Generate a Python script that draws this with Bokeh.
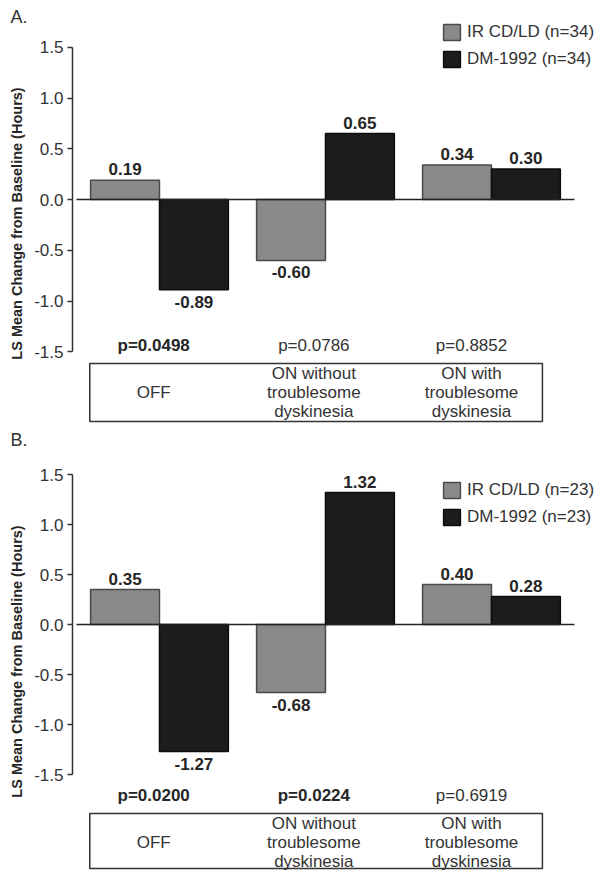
from bokeh.plotting import figure
from bokeh.models import (Range1d, FixedTicker, NumeralTickFormatter, Legend,
                          LegendItem, ColumnDataSource)
from bokeh.layouts import column
from bokeh.embed import file_html
from bokeh.resources import INLINE
from bokeh.core.properties import value

FONT = "Liberation Sans"

# ---------------- data ----------------
categories = ["OFF", "ON without\ntroublesome\ndyskinesia", "ON with\ntroublesome\ndyskinesia"]
series_names = ["IR CD/LD", "DM-1992"]

a_ir = [0.19, -0.60, 0.34]
a_dm = [-0.89, 0.65, 0.30]
a_n = 34
a_pvals = ["p=0.0498", "p=0.0786", "p=0.8852"]
a_pbold = [True, False, False]

b_ir = [0.35, -0.68, 0.40]
b_dm = [-1.27, 1.32, 0.28]
b_n = 23
b_pvals = ["p=0.0200", "p=0.0224", "p=0.6919"]
b_pbold = [True, True, False]

y_ticks = [-1.5, -1.0, -0.5, 0.0, 0.5, 1.0, 1.5]
y_label = "LS Mean Change from Baseline (Hours)"

# ---------------- style / layout ----------------
GRAY_FILL, GRAY_LINE = "#898989", "#4a4a4a"
DARK_FILL, DARK_LINE = "#1c1c1c", "#0d0d0d"
TXT = "#262626"
BAR_W = 0.415
X_RANGE = (-0.524, 2.687)
BOX_X = (-0.42, 2.307)
LABEL_X = [-0.035, 0.93, 1.88]   # centres of the table / p-value texts


def make_panel(tag, ir, dm, n, pvals, pbold, height, top, tag_standoff,
               zero_px, unit_px, p_y, box_y, box_text_y, legend_top,
               legend_spacing):
    frame_h = height - top
    y_end = (zero_px - top) / unit_px
    y_start = -(height - zero_px) / unit_px
    p = figure(width=605, height=height, x_range=Range1d(*X_RANGE),
               y_range=Range1d(y_start, y_end), output_backend="svg",
               toolbar_location=None, x_axis_location=None,
               min_border_left=72, min_border_right=0,
               min_border_top=top, min_border_bottom=0,
               outline_line_color=None, background_fill_color="white",
               border_fill_color="white", title=tag)
    p.title.align = "left"
    p.title.offset = -62
    p.title.standoff = tag_standoff
    p.title.text_font = FONT
    p.title.text_font_size = "18px"
    p.title.text_font_style = "normal"
    p.title.text_color = "#333333"
    p.grid.visible = False

    ax = p.yaxis[0]
    ax.ticker = FixedTicker(ticks=y_ticks)
    ax.formatter = NumeralTickFormatter(format="0.0")
    ax.bounds = (y_ticks[0], y_ticks[-1])
    ax.axis_line_width = 1.5
    ax.axis_line_color = "#333333"
    ax.major_tick_line_width = 1.5
    ax.major_tick_line_color = "#333333"
    ax.major_tick_in = 0
    ax.major_tick_out = 5
    ax.minor_tick_line_color = None
    ax.major_label_standoff = 4
    ax.major_label_text_font = FONT
    ax.major_label_text_font_size = "17px"
    ax.major_label_text_color = "#333333"
    ax.axis_label = y_label
    ax.axis_label_text_font = FONT
    ax.axis_label_text_font_size = "14.5px"
    ax.axis_label_text_font_style = "bold"
    ax.axis_label_text_color = TXT
    ax.axis_label_standoff = 6

    idx = list(range(len(categories)))
    src_ir = ColumnDataSource(dict(x=[i - BAR_W / 2 for i in idx], v=ir))
    src_dm = ColumnDataSource(dict(x=[i + BAR_W / 2 for i in idx], v=dm))
    r_ir = p.vbar(x="x", top="v", bottom=0, width=BAR_W, source=src_ir,
                  fill_color=GRAY_FILL, line_color=GRAY_LINE, line_width=1.5)
    r_dm = p.vbar(x="x", top="v", bottom=0, width=BAR_W, source=src_dm,
                  fill_color=DARK_FILL, line_color=DARK_LINE, line_width=1.5)

    # zero line
    p.segment(x0=[-0.5], y0=[0], x1=[2.5], y1=[0], line_color="#222222",
              line_width=1.5)

    # value labels
    for xs, vs in ((src_ir.data["x"], ir), (src_dm.data["x"], dm)):
        pos = [(x, v) for x, v in zip(xs, vs) if v >= 0]
        neg = [(x, v) for x, v in zip(xs, vs) if v < 0]
        if pos:
            p.text(x=[a for a, _ in pos], y=[b for _, b in pos],
                   text=[f"{b:.2f}" for _, b in pos], y_offset=-5,
                   text_align="center", text_baseline="bottom",
                   text_font=value(FONT), text_font_size="17px",
                   text_font_style="bold", text_color=TXT)
        if neg:
            p.text(x=[a for a, _ in neg], y=[b for _, b in neg],
                   text=[f"{b:.2f}" for _, b in neg], y_offset=6,
                   text_align="center", text_baseline="top",
                   text_font=value(FONT), text_font_size="17px",
                   text_font_style="bold", text_color=TXT)

    # category table
    p.quad(left=[BOX_X[0]], right=[BOX_X[1]], top=[box_y[0]], bottom=[box_y[1]],
           fill_color=None, line_color="#333333", line_width=1.5)
    p.text(x=LABEL_X, y=[box_text_y] * len(LABEL_X), text=categories,
           text_align="center", text_baseline="middle", text_line_height=1.0,
           text_font=value(FONT), text_font_size="17px", text_color="#333333")

    # p values
    for c, t, b in zip(LABEL_X, pvals, pbold):
        p.text(x=[c], y=[p_y], text=[t], text_align="center",
               text_baseline="middle", text_font=value(FONT),
               text_font_size="17px",
               text_font_style="bold" if b else "normal",
               text_color=TXT if b else "#333333")

    # legend (location measured from the frame's bottom-left corner)
    leg_h = 2 * 20 + legend_spacing
    legend = Legend(items=[LegendItem(label=f"{series_names[0]} (n={n})", renderers=[r_ir]),
                           LegendItem(label=f"{series_names[1]} (n={n})", renderers=[r_dm])],
                    location=(369, frame_h - (legend_top - top) - leg_h),
                    border_line_color=None, background_fill_alpha=0,
                    padding=0, margin=0, spacing=legend_spacing, glyph_width=21,
                    glyph_height=20, label_height=20, label_standoff=5,
                    label_text_font=FONT, label_text_font_size="17px",
                    label_text_color="#333333")
    p.add_layout(legend)
    return p


pA = make_panel("A.", a_ir, a_dm, a_n, a_pvals, a_pbold, 424, 22, -8,
                199, 101.5, -1.44, (-1.616, -2.187), -1.90, 22, 7)
pB = make_panel("B.", b_ir, b_dm, b_n, b_pvals, b_pbold, 446, 28, 6,
                200, 100.0, -1.71, (-1.89, -2.44), -2.18, 56, 7)

layout = column(pA, pB, spacing=0)
open("out.html", "w").write(file_html(layout, INLINE))
